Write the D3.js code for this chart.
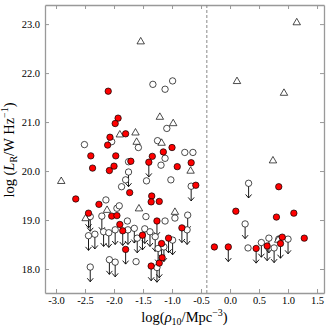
<!DOCTYPE html>
<html>
<head>
<meta charset="utf-8">
<script src="https://cdn.jsdelivr.net/npm/d3@7"></script>
<style>
  body { margin: 0; background: #fff; }
  text { font-family: "Liberation Serif", "DejaVu Serif", serif; }
</style>
</head>
<body>
<div id="chart"></div>
<script>
// chart size
var svgWidth = 329;
var svgHeight = 328;
var margin = { top: 5, right: 5, bottom: 35, left: 45 };
var width = 324 - margin.left;
var height = 293 - margin.top;

// x tick values and y tick values
var xTicks = [-3.0, -2.5, -2.0, -1.5, -1.0, -0.5, 0.0, 0.5, 1.0, 1.5];
var yTicks = [18, 19, 20, 21, 22, 23];
var densityCut = -0.4;

// red filled circles: [log rho10, log L_R, upper limit?]
var detected = [
  [-2.10, 21.63, 0], [-1.93, 21.08, 0], [-1.98, 20.97, 0], [-2.07, 20.69, 0],
  [-1.80, 20.76, 0], [-2.11, 20.53, 0], [-2.40, 20.31, 0], [-1.97, 20.31, 0],
  [-1.71, 20.20, 0], [-1.34, 20.30, 0], [-1.40, 20.18, 1], [-1.15, 20.39, 0],
  [-1.00, 20.48, 0], [-0.91, 20.09, 0], [-0.67, 20.17, 0], [-0.59, 19.71, 0],
  [-2.37, 20.06, 0], [-2.08, 20.01, 0], [-2.00, 20.10, 0], [-1.73, 19.56, 0],
  [-2.66, 19.43, 0], [-2.26, 19.32, 0], [-1.35, 19.49, 0], [-1.36, 19.37, 0],
  [-1.22, 19.38, 0], [-2.44, 19.14, 1], [-2.04, 19.08, 0], [-1.95, 19.09, 0],
  [-1.90, 18.91, 0], [-1.85, 18.78, 1], [-1.26, 18.98, 1], [-1.51, 18.69, 1],
  [-1.80, 18.40, 1], [-0.83, 18.84, 1], [-1.06, 18.63, 1], [-1.18, 18.52, 1],
  [-1.17, 18.23, 0], [-1.36, 18.06, 1], [-1.22, 18.12, 1],
  [0.84, 19.68, 0], [0.10, 19.18, 0], [0.80, 19.06, 0], [1.10, 19.14, 0],
  [-0.27, 18.45, 0], [-0.03, 18.45, 1], [0.45, 18.42, 1], [0.64, 18.47, 1],
  [0.90, 18.65, 0], [0.87, 18.52, 1], [1.28, 18.63, 0]
];

// open circles: [log rho10, log L_R, upper limit?]
var undetected = [
  [-1.33, 21.77, 0], [-1.12, 21.67, 0], [-0.99, 21.84, 0], [-1.09, 20.87, 0],
  [-1.58, 20.48, 0], [-1.25, 20.62, 0], [-0.78, 20.38, 0], [-0.64, 20.38, 0],
  [-2.51, 20.54, 0], [-2.04, 20.60, 0], [-1.75, 20.19, 0], [-1.19, 20.12, 0],
  [-1.12, 20.26, 0], [-1.80, 19.82, 0], [-1.87, 19.68, 0], [-1.44, 19.80, 0],
  [-1.02, 19.82, 0], [-2.14, 19.41, 0], [-1.95, 19.24, 0], [-1.91, 19.29, 0],
  [-1.45, 19.07, 0], [-1.77, 18.98, 0], [-1.12, 18.98, 0], [-0.95, 19.04, 0],
  [-1.62, 18.15, 0], [0.31, 18.43, 0], [0.84, 18.61, 0],
  [-1.75, 19.98, 1], [-0.67, 19.69, 1], [-0.73, 19.10, 1], [-2.41, 19.07, 1],
  [-2.21, 19.08, 1], [-2.44, 18.68, 1], [-2.33, 18.71, 1], [-2.18, 18.76, 1],
  [-2.09, 18.74, 1], [-1.98, 18.80, 1], [-1.76, 18.80, 1], [-1.65, 18.83, 1],
  [-1.60, 18.63, 1], [-1.47, 18.82, 1], [-1.38, 18.76, 1], [-1.24, 18.42, 1],
  [-1.29, 18.66, 1], [-0.74, 18.80, 1], [-1.14, 18.45, 1], [-0.99, 18.59, 1],
  [-2.41, 18.04, 1], [-2.08, 18.19, 1], [-1.98, 18.14, 1], [-1.26, 18.03, 1],
  [0.32, 19.75, 1], [0.26, 18.92, 1], [0.54, 18.54, 1], [0.67, 18.63, 1],
  [0.76, 18.43, 1], [1.00, 18.61, 1]
];

// open triangles: [log rho10, log L_R]
var triangles = [
  [-1.54, 22.64], [-1.21, 21.10], [-0.98, 20.97], [-1.63, 20.78], [-1.90, 20.74],
  [-1.61, 20.59], [-1.18, 20.57], [-0.68, 20.00], [-2.91, 19.79], [-1.57, 19.23],
  [-0.95, 19.16], [-2.12, 19.20], [-2.49, 19.03],
  [1.15, 23.03], [0.12, 21.83], [0.93, 21.59], [0.74, 20.21], [0.83, 18.59]
];

var arrowLength = 0.3;

var svg = d3.select("#chart")
  .append("svg")
  .attr("width", svgWidth)
  .attr("height", svgHeight);

var chartGroup = svg.append("g")
  .attr("transform", `translate(${margin.left}, ${margin.top})`);

var xScale = d3.scaleLinear().domain([-3.19, 1.62]).range([0, width]);
var yScale = d3.scaleLinear().domain([17.51, 23.39]).range([height, 0]);

var frameColor = "#999";

// axes, ticks inward on all four sides
var bottomAxis = d3.axisBottom(xScale).tickValues(xTicks).tickSize(-4).tickSizeOuter(0)
  .tickPadding(4).tickFormat(d => d.toFixed(1));
var leftAxis = d3.axisLeft(yScale).tickValues(yTicks).tickSize(-4).tickSizeOuter(0)
  .tickPadding(5).tickFormat(d => d.toFixed(1));
var topAxis = d3.axisTop(xScale).tickValues(xTicks).tickSize(-4).tickSizeOuter(0).tickFormat("");
var rightAxis = d3.axisRight(yScale).tickValues(yTicks).tickSize(-4).tickSizeOuter(0).tickFormat("");

var axes = [
  chartGroup.append("g").attr("transform", `translate(0, ${height})`).call(bottomAxis),
  chartGroup.append("g").call(leftAxis),
  chartGroup.append("g").call(topAxis),
  chartGroup.append("g").attr("transform", `translate(${width}, 0)`).call(rightAxis)
];
axes.forEach(function(a) {
  a.selectAll("path.domain").attr("stroke", frameColor).attr("stroke-width", 1.3);
  a.selectAll(".tick line").attr("stroke", frameColor);
  a.selectAll("text").attr("font-size", 10.5).attr("fill", "#000")
    .style("font-family", '"Liberation Serif", serif');
});

// dashed density cut
chartGroup.append("line")
  .attr("x1", xScale(densityCut)).attr("x2", xScale(densityCut))
  .attr("y1", 0).attr("y2", height)
  .attr("stroke", "#888")
  .attr("stroke-width", 1)
  .attr("stroke-dasharray", "3,2");

// upper limit arrows
var limits = detected.concat(undetected).filter(d => d[2]);
var arrowGroup = chartGroup.append("g");
limits.forEach(function(d) {
  var x = xScale(d[0]);
  var y0 = yScale(d[1]);
  var y1 = yScale(d[1] - arrowLength);
  arrowGroup.append("line")
    .attr("x1", x).attr("x2", x).attr("y1", y0).attr("y2", y1)
    .attr("stroke", "#000").attr("stroke-width", 0.9);
  arrowGroup.append("path")
    .attr("d", `M${x - 3},${y1 - 3.5}L${x},${y1}L${x + 3},${y1 - 3.5}`)
    .attr("fill", "none").attr("stroke", "#000").attr("stroke-width", 0.9);
});

// open circles
chartGroup.append("g").selectAll("circle")
  .data(undetected)
  .enter()
  .append("circle")
  .attr("cx", d => xScale(d[0]))
  .attr("cy", d => yScale(d[1]))
  .attr("r", 3.2)
  .attr("fill", "#fff")
  .attr("stroke", "#000")
  .attr("stroke-width", 0.7);

// triangles
chartGroup.append("g").selectAll("path")
  .data(triangles)
  .enter()
  .append("path")
  .attr("d", d3.symbol().type(d3.symbolTriangle).size(24))
  .attr("transform", d => `translate(${xScale(d[0])}, ${yScale(d[1])})`)
  .attr("fill", "#fff")
  .attr("stroke", "#000")
  .attr("stroke-width", 0.7);

// red filled circles
chartGroup.append("g").selectAll("circle")
  .data(detected)
  .enter()
  .append("circle")
  .attr("cx", d => xScale(d[0]))
  .attr("cy", d => yScale(d[1]))
  .attr("r", 3.2)
  .attr("fill", "#f00")
  .attr("stroke", "#000")
  .attr("stroke-width", 0.7);

// axis labels
var xLabel = svg.append("text")
  .attr("x", margin.left + width / 2)
  .attr("y", 322)
  .attr("text-anchor", "middle")
  .attr("font-size", 14.5);
xLabel.append("tspan").text("log(");
xLabel.append("tspan").attr("font-style", "italic").text("ρ");
xLabel.append("tspan").attr("font-size", 10).attr("dy", 3).text("10");
xLabel.append("tspan").attr("dy", -3).text("/Mpc");
xLabel.append("tspan").attr("font-size", 10).attr("dy", -6).text("−3");
xLabel.append("tspan").attr("dy", 6).text(")");

var yLabel = svg.append("text")
  .attr("transform", "translate(14, 150) rotate(-90)")
  .attr("text-anchor", "middle")
  .attr("font-size", 14.5);
yLabel.append("tspan").text("log (");
yLabel.append("tspan").attr("font-style", "italic").text("L");
yLabel.append("tspan").attr("font-size", 10).attr("dy", 3).text("R");
yLabel.append("tspan").attr("dy", -3).text("/W Hz");
yLabel.append("tspan").attr("font-size", 10).attr("dy", -6).text("−1");
yLabel.append("tspan").attr("dy", 6).text(")");
</script>
</body>
</html>
